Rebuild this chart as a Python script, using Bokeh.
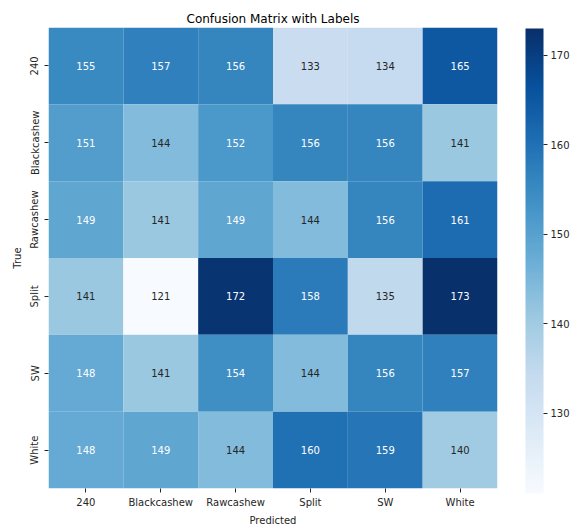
import numpy as np
from bokeh.plotting import figure
from bokeh.models import LinearColorMapper, ColorBar, FixedTicker, ColumnDataSource
from bokeh.embed import file_html
from bokeh.resources import INLINE

labels = ["240", "Blackcashew", "Rawcashew", "Split", "SW", "White"]
row_240 = [155, 157, 156, 133, 134, 165]
row_blackcashew = [151, 144, 152, 156, 156, 141]
row_rawcashew = [149, 141, 149, 144, 156, 161]
row_split = [141, 121, 172, 158, 135, 173]
row_sw = [148, 141, 154, 144, 156, 157]
row_white = [148, 149, 144, 160, 159, 140]
cbar_ticks = [130, 140, 150, 160, 170]

rows = [row_240, row_blackcashew, row_rawcashew, row_split, row_sw, row_white]

blues9 = ["#f7fbff", "#deebf7", "#c6dbef", "#9ecae1", "#6baed6",
          "#4292c6", "#2171b5", "#08519c", "#08306b"]


def hex2rgb(h):
    return [int(h[i:i + 2], 16) for i in (1, 3, 5)]


anchors = np.array([hex2rgb(c) for c in blues9], dtype=float)
pos = np.linspace(0, 1, len(blues9))
t = np.linspace(0, 1, 256)
pal_rgb = np.stack([np.interp(t, pos, anchors[:, k]) for k in range(3)], axis=1)
palette = ["#%02x%02x%02x" % tuple(int(round(v)) for v in c) for c in pal_rgb]

all_vals = [v for r in rows for v in r]
vmin, vmax = min(all_vals), max(all_vals)


def text_color(v):
    idx = int(np.clip((v - vmin) / (vmax - vmin) * 255, 0, 255))
    rgb = pal_rgb[idx] / 255.0
    lin = np.where(rgb <= 0.03928, rgb / 12.92, ((rgb + 0.055) / 1.055) ** 2.4)
    lum = 0.2126 * lin[0] + 0.7152 * lin[1] + 0.0722 * lin[2]
    return "#262626" if lum > 0.408 else "#ffffff"


xs, ys, vs, tc, txt = [], [], [], [], []
for true_lab, r in zip(labels, rows):
    for pred_lab, v in zip(labels, r):
        xs.append(pred_lab)
        ys.append(true_lab)
        vs.append(v)
        tc.append(text_color(v))
        txt.append(str(v))

src = ColumnDataSource(dict(x=xs, y=ys, v=vs, tc=tc, txt=txt))

mapper = LinearColorMapper(palette=palette, low=vmin, high=vmax)

p = figure(width=573, height=528, x_range=labels, y_range=list(reversed(labels)),
           output_backend="svg", toolbar_location=None,
           title="Confusion Matrix with Labels",
           min_border_left=48, min_border_right=76, min_border_top=27,
           min_border_bottom=36)

p.rect(x="x", y="y", width=1, height=1, source=src,
       fill_color={"field": "v", "transform": mapper}, line_color=None)
p.text(x="x", y="y", text="txt", source=src, text_color="tc",
       text_align="center", text_baseline="middle",
       text_font_size="10px", text_font={"value": "DejaVu Sans"})

p.title.align = "center"
p.title.text_font = "DejaVu Sans"
p.title.text_font_size = "12px"
p.title.text_font_style = "normal"
p.title.text_color = "#000000"
p.title.standoff = 4

p.outline_line_color = None
p.grid.visible = False
p.background_fill_color = "white"

for ax in (p.xaxis[0], p.yaxis[0]):
    ax.axis_line_color = None
    ax.major_tick_in = 0
    ax.major_tick_out = 4
    ax.major_tick_line_color = "#262626"
    ax.minor_tick_line_color = None
    ax.major_label_text_font = "DejaVu Sans"
    ax.major_label_text_font_size = "10px"
    ax.major_label_text_color = "#262626"
    ax.axis_label_text_font = "DejaVu Sans"
    ax.axis_label_text_font_size = "10px"
    ax.axis_label_text_font_style = "normal"
    ax.axis_label_text_color = "#262626"
    ax.major_label_standoff = 4
    ax.axis_label_standoff = 4

p.xaxis.axis_label = "Predicted"
p.yaxis.axis_label = "True"
p.yaxis.major_label_orientation = "vertical"

cb = ColorBar(color_mapper=mapper, ticker=FixedTicker(ticks=cbar_ticks),
              width=18, height=465, padding=0, margin=0, location=(28, -5),
              bar_line_color=None, border_line_color=None,
              major_tick_in=0, major_tick_out=4,
              major_tick_line_color="#262626", minor_tick_line_color=None,
              major_label_text_font="DejaVu Sans",
              major_label_text_font_size="10px",
              major_label_text_color="#262626", label_standoff=3)
p.add_layout(cb, "right")

open("out.html", "w").write(file_html(p, INLINE))
